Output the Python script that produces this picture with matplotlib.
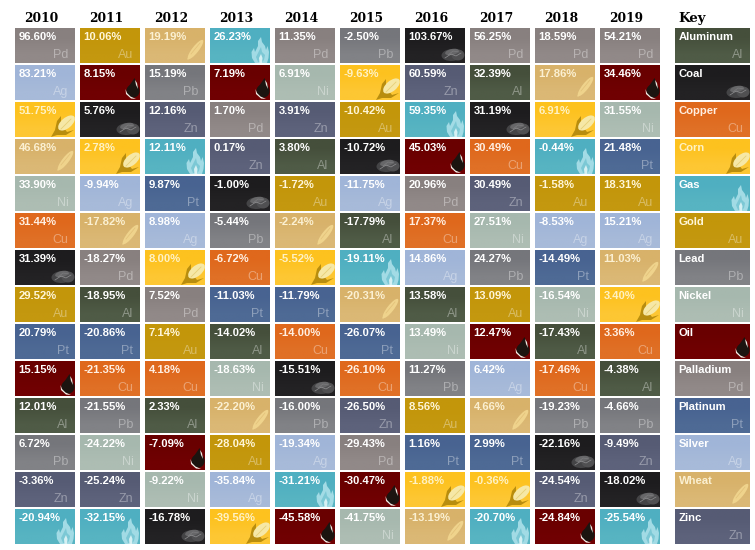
import numpy as np
import matplotlib
matplotlib.use("Agg")
import matplotlib.pyplot as plt
from matplotlib.colors import to_rgb
from matplotlib.patches import Ellipse, Polygon, Rectangle, Circle

years = ["2010", "2011", "2012", "2013", "2014", "2015", "2016", "2017", "2018", "2019"]

values_2010 = [96.60, 83.21, 51.75, 46.68, 33.90, 31.44, 31.39, 29.52, 20.79, 15.15, 12.01, 6.72, -3.36, -20.94]
names_2010 = ["Pd", "Ag", "Corn", "Wheat", "Ni", "Cu", "Coal", "Au", "Pt", "Oil", "Al", "Pb", "Zn", "Gas"]
values_2011 = [10.06, 8.15, 5.76, 2.78, -9.94, -17.82, -18.27, -18.95, -20.86, -21.35, -21.55, -24.22, -25.24, -32.15]
names_2011 = ["Au", "Oil", "Coal", "Corn", "Ag", "Wheat", "Pd", "Al", "Pt", "Cu", "Pb", "Ni", "Zn", "Gas"]
values_2012 = [19.19, 15.19, 12.16, 12.11, 9.87, 8.98, 8.00, 7.52, 7.14, 4.18, 2.33, -7.09, -9.22, -16.78]
names_2012 = ["Wheat", "Pb", "Zn", "Gas", "Pt", "Ag", "Corn", "Pd", "Au", "Cu", "Al", "Oil", "Ni", "Coal"]
values_2013 = [26.23, 7.19, 1.70, 0.17, -1.00, -5.44, -6.72, -11.03, -14.02, -18.63, -22.20, -28.04, -35.84, -39.56]
names_2013 = ["Gas", "Oil", "Pd", "Zn", "Coal", "Pb", "Cu", "Pt", "Al", "Ni", "Wheat", "Au", "Ag", "Corn"]
values_2014 = [11.35, 6.91, 3.91, 3.80, -1.72, -2.24, -5.52, -11.79, -14.00, -15.51, -16.00, -19.34, -31.21, -45.58]
names_2014 = ["Pd", "Ni", "Zn", "Al", "Au", "Wheat", "Corn", "Pt", "Cu", "Coal", "Pb", "Ag", "Gas", "Oil"]
values_2015 = [-2.50, -9.63, -10.42, -10.72, -11.75, -17.79, -19.11, -20.31, -26.07, -26.10, -26.50, -29.43, -30.47, -41.75]
names_2015 = ["Pb", "Corn", "Au", "Coal", "Ag", "Al", "Gas", "Wheat", "Pt", "Cu", "Zn", "Pd", "Oil", "Ni"]
values_2016 = [103.67, 60.59, 59.35, 45.03, 20.96, 17.37, 14.86, 13.58, 13.49, 11.27, 8.56, 1.16, -1.88, -13.19]
names_2016 = ["Coal", "Zn", "Gas", "Oil", "Pd", "Cu", "Ag", "Al", "Ni", "Pb", "Au", "Pt", "Corn", "Wheat"]
values_2017 = [56.25, 32.39, 31.19, 30.49, 30.49, 27.51, 24.27, 13.09, 12.47, 6.42, 4.66, 2.99, -0.36, -20.70]
names_2017 = ["Pd", "Al", "Coal", "Cu", "Zn", "Ni", "Pb", "Au", "Oil", "Ag", "Wheat", "Pt", "Corn", "Gas"]
values_2018 = [18.59, 17.86, 6.91, -0.44, -1.58, -8.53, -14.49, -16.54, -17.43, -17.46, -19.23, -22.16, -24.54, -24.84]
names_2018 = ["Pd", "Wheat", "Corn", "Gas", "Au", "Ag", "Pt", "Ni", "Al", "Cu", "Pb", "Coal", "Zn", "Oil"]
values_2019 = [54.21, 34.46, 31.55, 21.48, 18.31, 15.21, 11.03, 3.40, 3.36, -4.38, -4.66, -9.49, -18.02, -25.54]
names_2019 = ["Pd", "Oil", "Ni", "Pt", "Au", "Ag", "Wheat", "Corn", "Cu", "Al", "Pb", "Zn", "Coal", "Gas"]

all_values = [values_2010, values_2011, values_2012, values_2013, values_2014,
              values_2015, values_2016, values_2017, values_2018, values_2019]
all_names = [names_2010, names_2011, names_2012, names_2013, names_2014,
             names_2015, names_2016, names_2017, names_2018, names_2019]

key_codes = ["Al", "Coal", "Cu", "Corn", "Gas", "Au", "Pb", "Ni", "Oil", "Pd", "Pt", "Ag", "Wheat", "Zn"]
key_labels = ["Aluminum", "Coal", "Copper", "Corn", "Gas", "Gold", "Lead", "Nickel", "Oil",
              "Palladium", "Platinum", "Silver", "Wheat", "Zinc"]

# top and bottom colour of each tile
colors = {
    "Al": ("#454f3b", "#4f5b46"),
    "Coal": ("#1d1c1e", "#232224"),
    "Cu": ("#df681c", "#e07026"),
    "Corn": ("#fdc21f", "#fdc733"),
    "Gas": ("#4fafc1", "#57b4c2"),
    "Au": ("#c3960a", "#c4980f"),
    "Pb": ("#75767b", "#818286"),
    "Ni": ("#a6b8ae", "#adbdb3"),
    "Oil": ("#690000", "#700002"),
    "Pd": ("#88807f", "#918988"),
    "Pt": ("#486391", "#4e6a95"),
    "Ag": ("#a0b5d8", "#a7bad9"),
    "Wheat": ("#d8b26a", "#dbb875"),
    "Zn": ("#565b74", "#5d627b"),
}
# label colour where the picture washes it out
text_colors = {"Corn": "#fff2c4", "Wheat": "#fbf0d2", "Au": "#fff6d8", "Cu": "#ffefe2"}

CELL_W = 60
CELL_H = 35
ROW_STEP = 37
COL_STEP = 65
LEFT = 15
TOP = 28
KEY_LEFT = 675
KEY_W = 75

fig = plt.figure(figsize=(7.55, 5.5), dpi=100)
ax = fig.add_axes([0, 0, 1, 1])


def clipped(art, clip):
    ax.add_patch(art)
    art.set_clip_path(clip)


def draw_coal(r, y, clip):
    clipped(Ellipse((r - 13, y + 27), 21, 12, angle=-4, color="#444446", lw=0), clip)
    clipped(Ellipse((r - 7, y + 27), 13, 11, color="#505052", lw=0), clip)
    clipped(Ellipse((r - 13, y + 24), 14, 6, angle=-12, color="#676769", lw=0), clip)
    ax.plot([r - 20, r - 14, r - 9, r - 4], [y + 30, y + 26, y + 28, y + 25], color="#8e8e90", lw=0.5)
    ax.plot([r - 17, r - 12, r - 6], [y + 27, y + 23, y + 24], color="#7c7c7e", lw=0.5)


def draw_oil(r, y, clip):
    clipped(Circle((r - 7, y + 26), 6.6, color="#1c1410", lw=0), clip)
    clipped(Polygon([(r - 13, y + 24), (r - 5.5, y + 13), (r - 0.8, y + 25)], color="#1c1410", lw=0), clip)
    clipped(Polygon([(r - 5, y + 15), (r - 3, y + 18), (r - 2, y + 24), (r - 4, y + 20)], color="#f0e8e0", lw=0), clip)
    clipped(Polygon([(r - 14.5, y + 24), (r - 14, y + 29), (r - 9, y + 33.5), (r - 4, y + 34),
                     (r - 9.5, y + 31.5), (r - 13, y + 28)], color="#f5efe8", lw=0), clip)


def draw_gas(r, y, clip):
    outer = [(r - 15, y + 35), (r - 18, y + 30), (r - 18.5, y + 24), (r - 16, y + 20), (r - 15, y + 24),
             (r - 12, y + 18), (r - 12, y + 13), (r - 9, y + 9), (r - 8, y + 14), (r - 5, y + 18),
             (r - 4, y + 22), (r - 2.5, y + 18), (r - 1, y + 24), (r - 1.5, y + 30), (r - 3, y + 35)]
    inner = [(r - 12, y + 34), (r - 14, y + 29), (r - 11, y + 23), (r - 9, y + 19), (r - 8, y + 24),
             (r - 5, y + 27), (r - 6, y + 32), (r - 8, y + 34)]
    core = [(r - 10.5, y + 35), (r - 11, y + 30), (r - 9, y + 26), (r - 7.5, y + 30), (r - 8, y + 35)]
    clipped(Polygon(outer, color="#a2dbe5", lw=0), clip)
    clipped(Polygon(inner, color="#7cc8d5", lw=0), clip)
    clipped(Polygon(core, color="#d5f0f3", lw=0), clip)


def draw_corn(r, y, clip):
    leaf = [(r - 24, y + 35), (r - 20, y + 28), (r - 18, y + 19), (r - 14, y + 14), (r - 14, y + 22),
            (r - 8, y + 30), (r - 1, y + 28), (r - 9, y + 33), (r - 18, y + 33)]
    clipped(Polygon(leaf, color="#b88d0e", lw=0), clip)
    clipped(Ellipse((r - 8.5, y + 21), 20, 10.5, angle=-40, color="#f6e8a6", lw=0), clip)
    ax.plot([r - 14, r - 4], [y + 27, y + 17], color="#e6cf78", lw=0.6)


def draw_wheat(r, y, clip):
    clipped(Ellipse((r - 9.5, y + 21.5), 24, 6.5, angle=-52, color="#efd38c", lw=0), clip)
    ax.plot([r - 17, r - 12], [y + 31, y + 24], color="#efd38c", lw=1.1, solid_capstyle="round")
    ax.plot([r - 14, r - 5], [y + 26, y + 15], color="#e2c078", lw=0.5)


icons = {"Coal": draw_coal, "Oil": draw_oil, "Gas": draw_gas, "Corn": draw_corn, "Wheat": draw_wheat}


def draw_tile(x, y, w, code, label):
    top = np.array(to_rgb(colors[code][0]))
    bottom = np.array(to_rgb(colors[code][1]))
    grad = np.array([[top], [bottom]])
    ax.imshow(grad, extent=(x, x + w, y + CELL_H, y), aspect="auto", interpolation="bilinear")
    clip = Rectangle((x, y), w, CELL_H, transform=ax.transData)
    if code in icons:
        icons[code](x + w, y, clip)
    else:
        ax.text(x + w - 6.5, y + 30, code, color="white", alpha=0.36, fontsize=9,
                family="Liberation Sans", ha="right", va="baseline")
    ax.text(x + 3.5, y + 12, label, color=text_colors.get(code, "white"), fontsize=8.1, fontweight="bold",
            family="Liberation Sans", ha="left", va="baseline")


for col, year in enumerate(years):
    x = LEFT + col * COL_STEP
    ax.text(x + 26, 18, year, fontsize=8.8, fontweight="bold", family="DejaVu Serif",
            ha="center", va="center", color="black")
    for row, (val, code) in enumerate(zip(all_values[col], all_names[col])):
        draw_tile(x, TOP + row * ROW_STEP, CELL_W, code, "{:.2f}%".format(val))

ax.text(KEY_LEFT + 3, 22, "Key", fontsize=9.5, fontweight="bold", family="DejaVu Serif",
        ha="left", va="baseline", color="black")
for row, (code, label) in enumerate(zip(key_codes, key_labels)):
    draw_tile(KEY_LEFT, TOP + row * ROW_STEP, KEY_W, code, label)

ax.set_xlim(0, 755)
ax.set_ylim(550, 0)
ax.axis("off")
fig.savefig("out.png", dpi=100, facecolor="white")
